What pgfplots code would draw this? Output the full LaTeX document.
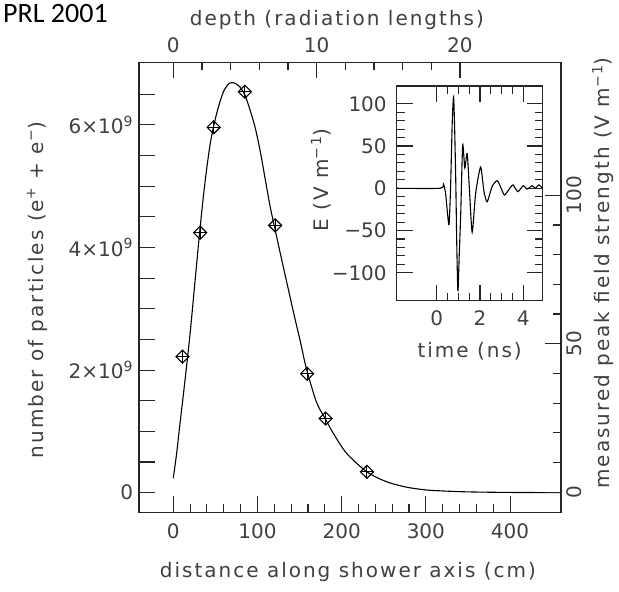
\documentclass[border=0pt]{standalone}
\usepackage{fontspec}
\setmainfont{DejaVu Sans}
\newfontfamily\prlfont{Carlito}
\newfontfamily\labfont[LetterSpace=10]{DejaVu Sans}
\usepackage{pgfplots}
\pgfplotsset{compat=1.18}
\usepackage{pgfplotstable}
\newcommand\tfont{\fontsize{20bp}{24bp}\selectfont}
\newcommand\lfont{\labfont\fontsize{20bp}{24bp}\selectfont}

\pgfplotstableread{
x y
0 0.235
4 0.64
8 1.13
14 1.84
20 2.6
26 3.47
32 4.34
38 5.1
44 5.7
50 6.1
56 6.4
61 6.58
67 6.68
73 6.68
79 6.62
85 6.49
91 6.25
97 5.97
103 5.59
109 5.13
115 4.67
121 4.29
127 3.91
135 3.42
143 2.93
151 2.46
158 2.03
170 1.48
180 1.22
190 0.97
206 0.64
230 0.34
253 0.18
277 0.09
300 0.045
317 0.03
350 0.013
400 0.004
460 0.001
}\curvedata

\pgfplotstableread{
x y
11 2.22
32 4.24
48 5.96
85 6.54
121 4.36
159 1.94
181 1.21
230 0.34
}\pointdata

\pgfplotstableread{
t E
-1.85 0
0.15 0
0.31 5
0.41 -6
0.5 -30
0.57 -43
0.64 0
0.72 80
0.78 108
0.83 70
0.88 10
0.93 -70
0.98 -122
1.04 -80
1.11 -30
1.2 51
1.3 24
1.41 41
1.52 -5
1.64 -52
1.8 -6
2.03 25
2.18 -3
2.33 -16
2.56 2
2.8 9
3.03 -3
3.14 -8
3.41 1
3.53 4
3.75 -4
4.0 3
4.18 -1
4.41 3
4.57 0
4.72 4
4.9 0
}\wavedata

\pgfplotsset{
  common/.style={
    scale only axis,
    /pgf/number format/assume math mode=true,
    tick align=inside,
    major tick length=16bp,
    minor tick length=8bp,
    axis line style={line width=1.5bp, black!85},
    every tick/.style={line width=1.1bp, black!85},
    every minor tick/.style={line width=1.1bp, black!85},
    tick label style={font=\tfont, text=black!75},
  }
}

\begin{document}
\begin{tikzpicture}
\useasboundingbox (-139bp,-79.7bp) rectangle (480bp,512.3bp);

% main axis
\begin{axis}[common,
  at={(0bp,0bp)}, anchor=south west,
  width=422bp, height=450bp,
  xmin=-40.7, xmax=460.5, ymin=-0.32, ymax=7.02,
  xtick={0,100,200,300,400}, minor x tick num=4, xtick pos=left,
  ytick={0,0.5,1,1.5,2,2.5,3,3.5,4,4.5,5,5.5,6,6.5},
  yticklabels={0,{},{},{},2×10\textsuperscript{9},{},{},{},4×10\textsuperscript{9},{},{},{},6×10\textsuperscript{9},{}},
  ytick pos=left,
  xticklabel shift=8bp,
  yticklabel shift=2.5bp,
  xlabel={distance along shower axis (cm)},
  ylabel={number of particles (e\textsuperscript{+} + e\textsuperscript{−})},
  every axis x label/.style={at={(axis description cs:0.495,-0.1327)}, anchor=center, font=\lfont, text=black!75},
  every axis y label/.style={at={(axis description cs:-0.2417,0.494)}, anchor=center, rotate=90, font=\lfont, text=black!75},
]
\addplot[black, line width=1.1bp, smooth, tension=0.5] table[x=x,y=y] {\curvedata};
\addplot[black, only marks, mark=square, mark size=4.6bp, mark options={rotate=45, line width=1.1bp}] table[x=x,y=y] {\pointdata};
\addplot[black, only marks, mark=+, mark size=6.5bp, mark options={line width=1.1bp}] table[x=x,y=y] {\pointdata};
\end{axis}

% top / right axes
\begin{axis}[common,
  at={(0bp,0bp)}, anchor=south west,
  width=422bp, height=450bp,
  xmin=-2.393, xmax=27.05, ymin=-6.8, ymax=144.8,
  axis x line*=top, axis y line*=right,
  xtick={0,10,20}, minor x tick num=4,
  ytick={0,50,100}, minor y tick num=4,
  xticklabel shift=5.5bp,
  yticklabel shift=2.3bp,
  yticklabel style={rotate=90, anchor=north},
  xlabel={depth (radiation lengths)},
  ylabel={measured peak field strength (V m\textsuperscript{−1})},
  every axis x label/.style={at={(axis description cs:0.469,1.094)}, anchor=center, font=\lfont, text=black!75},
  every axis y label/.style={at={(axis description cs:1.0995,0.532)}, anchor=center, rotate=90, font=\lfont, text=black!75},
]
\end{axis}

% inset
\begin{axis}[common,
  at={(257.7bp,211.6bp)}, anchor=south west,
  width=146bp, height=214.7bp,
  axis background/.style={fill=white},
  xmin=-1.85, xmax=4.9, ymin=-133, ymax=121,
  xtick={0,2,4}, xticklabels={0,2,4}, minor x tick num=3,
  ytick={-100,-50,0,50,100}, yticklabels={−100,−50,0,50,100}, minor y tick num=4,
  xticklabel shift=6.5bp,
  yticklabel shift=6.5bp,
  xlabel={time (ns)},
  ylabel={E (V m\textsuperscript{−1})},
  every axis x label/.style={at={(axis description cs:0.5,-0.234)}, anchor=center, font=\lfont, text=black!75},
  every axis y label/.style={at={(axis description cs:-0.518,0.562)}, anchor=center, rotate=90, font=\lfont, text=black!75},
]
\addplot[black, line width=1.1bp, smooth, tension=0.4] table[x=t,y=E] {\wavedata};
\end{axis}

\node[anchor=north west, inner sep=0pt, font=\prlfont\fontsize{28bp}{30bp}\selectfont] at (-136bp,508bp) {PRL 2001};
\end{tikzpicture}
\end{document}
